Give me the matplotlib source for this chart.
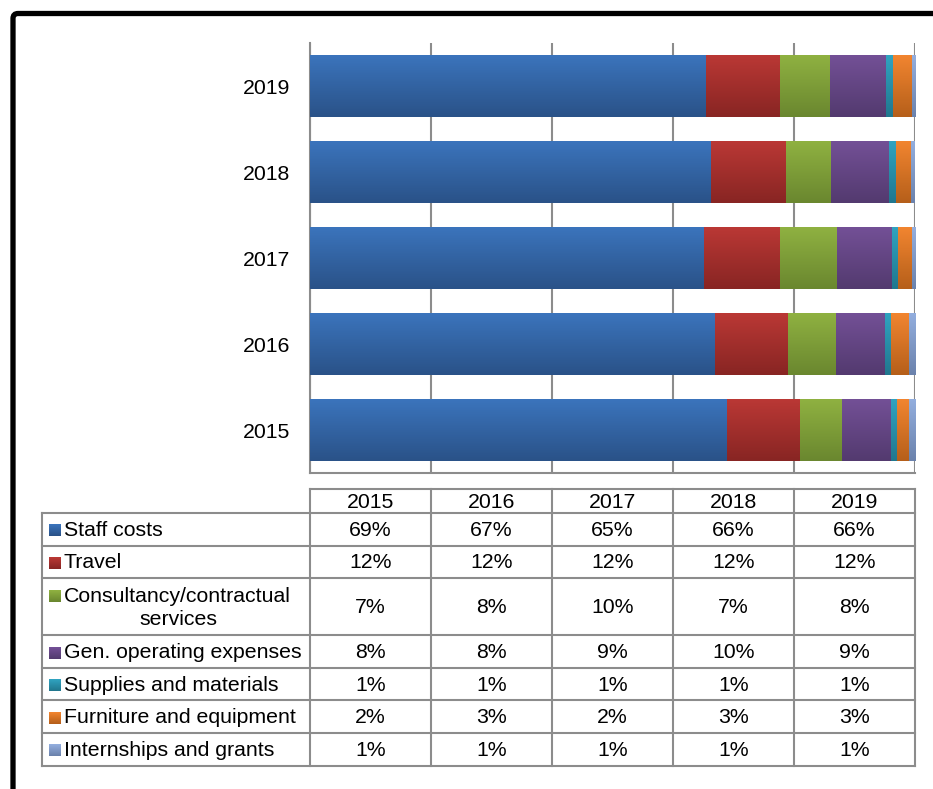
import numpy as np
import matplotlib
matplotlib.use("Agg")
import matplotlib.pyplot as plt
from matplotlib.colors import to_rgb
from matplotlib.patches import FancyBboxPatch

plt.rcParams["font.family"] = ["Liberation Sans", "DejaVu Sans"]

# --- data ---
years = ["2015", "2016", "2017", "2018", "2019"]
categories = ["Staff costs", "Travel", "Consultancy/contractual\nservices",
              "Gen. operating expenses", "Supplies and materials",
              "Furniture and equipment", "Internships and grants"]
# shares (%)
staff = [68.9, 66.9, 65.1, 66.3, 65.5]
travel = [12.1, 12.1, 12.6, 12.4, 12.2]
consult = [6.9, 7.9, 9.4, 7.4, 8.3]
genop = [8.1, 8.1, 9.1, 9.6, 9.2]
supplies = [1.0, 1.0, 1.0, 1.2, 1.2]
furniture = [2.0, 3.0, 2.3, 2.5, 3.1]
intern = [1.0, 1.0, 0.5, 0.6, 0.5]
# rounded values printed in the data table
tbl_staff = [69, 67, 65, 66, 66]
tbl_travel = [12, 12, 12, 12, 12]
tbl_consult = [7, 8, 10, 7, 8]
tbl_genop = [8, 8, 9, 10, 9]
tbl_supplies = [1, 1, 1, 1, 1]
tbl_furniture = [2, 3, 2, 3, 3]
tbl_intern = [1, 1, 1, 1, 1]

series = [staff, travel, consult, genop, supplies, furniture, intern]
table_vals = [tbl_staff, tbl_travel, tbl_consult, tbl_genop, tbl_supplies, tbl_furniture, tbl_intern]
# gradient colours (top, bottom)
grads = [("#3B74BC", "#2A5288"), ("#BA3835", "#882523"), ("#8FB141", "#6A872F"),
         ("#735096", "#533A6F"), ("#30A3C0", "#21778E"), ("#F28530", "#B55F1A"),
         ("#93AEDE", "#6B82AC")]

W, H = 933, 789
GRID = "#8C8C8C"
FS = 15.3
fig = plt.figure(figsize=(W / 100, H / 100), dpi=100)

# plot area in pixels
AX_L, AX_R, AX_T, AX_B = 310, 915, 43, 473
ax = fig.add_axes([AX_L / W, 1 - AX_B / H, (AX_R - AX_L) / W, (AX_B - AX_T) / H])

y = np.arange(len(years))
left = np.zeros(len(years))
bar_h = 0.72
for vals, (c1, c2) in zip(series, grads):
    frac = np.array(vals) / 100
    bars = ax.barh(y, frac, left=left, height=bar_h, color=c1, zorder=2, linewidth=0)
    grad = np.linspace(to_rgb(c1), to_rgb(c2), 64).reshape(64, 1, 3)
    for b in bars:
        x0, y0, w, h = b.get_x(), b.get_y(), b.get_width(), b.get_height()
        ax.imshow(grad, extent=(x0, x0 + w, y0, y0 + h), aspect="auto",
                  interpolation="bilinear", zorder=3)
    left += frac

ax.set_xlim(0, 1)
ax.set_ylim(-0.5, len(years) - 0.5)
ax.set_xticks(np.linspace(0, 1, 6))
ax.set_xticklabels([])
ax.grid(axis="x", color=GRID, lw=1.5, zorder=1)
ax.set_yticks(y)
ax.set_yticklabels(years, fontsize=FS)
ax.tick_params(length=0, pad=14)
for s in ["top", "right"]:
    ax.spines[s].set_visible(False)
for s in ["left", "bottom"]:
    ax.spines[s].set_color(GRID)
    ax.spines[s].set_linewidth(1.5)
ax.set_axisbelow(True)

# --- data table (pixel coordinates) ---
tx = fig.add_axes([0, 0, 1, 1], zorder=-1)
tx.set_xlim(0, W)
tx.set_ylim(H, 0)
tx.axis("off")

LBL_L = 42
HDR_T, HDR_B = 489, 513
row_h = 32.6
heights = [1, 1, 1.75, 1, 1, 1, 1]
row_edges = HDR_B + row_h * np.concatenate([[0], np.cumsum(heights)])
col_edges = AX_L + (AX_R - AX_L) * np.arange(len(years) + 1) / len(years)
lk = dict(color=GRID, lw=1.5, solid_capstyle="projecting")

# header
tx.plot([AX_L, AX_R], [HDR_T, HDR_T], **lk)
for ce in col_edges:
    tx.plot([ce, ce], [HDR_T, row_edges[-1]], **lk)
for j, yr in enumerate(years):
    tx.text((col_edges[j] + col_edges[j + 1]) / 2, (HDR_T + HDR_B) / 2 + 1, yr,
            ha="center", va="center", fontsize=FS)
# rows
for re_ in row_edges:
    tx.plot([LBL_L, AX_R], [re_, re_], **lk)
tx.plot([LBL_L, LBL_L], [row_edges[0], row_edges[-1]], **lk)

for i, (cat, vals, (c1, c2)) in enumerate(zip(categories, table_vals, grads)):
    top, bot = row_edges[i], row_edges[i + 1]
    yc = (top + bot) / 2 + 1
    lines = cat.split("\n")
    y_first = yc if len(lines) == 1 else yc - 11.5
    sq = np.linspace(to_rgb(c1), to_rgb(c2), 16).reshape(16, 1, 3)
    tx.imshow(sq, extent=(49, 61, y_first + 6, y_first - 6), aspect="auto", interpolation="bilinear")
    tx.text(64, y_first, lines[0], ha="left", va="center", fontsize=FS)
    if len(lines) > 1:
        tx.text((LBL_L + AX_L) / 2 + 2, yc + 11.5, lines[1], ha="center", va="center", fontsize=FS)
    for j, v in enumerate(vals):
        tx.text((col_edges[j] + col_edges[j + 1]) / 2, yc, f"{v}%", ha="center", va="center", fontsize=FS)
tx.set_xlim(0, W)
tx.set_ylim(H, 0)

# outer frame (only top/left visible in the crop)
frame = FancyBboxPatch((0.13, -1.0), 12.0, 7.755 + 1.0, boxstyle="round,pad=0,rounding_size=0.05",
                       transform=fig.dpi_scale_trans, fill=False, ec="black", lw=3.8)
fig.add_artist(frame)

fig.savefig("out.png", dpi=100)
